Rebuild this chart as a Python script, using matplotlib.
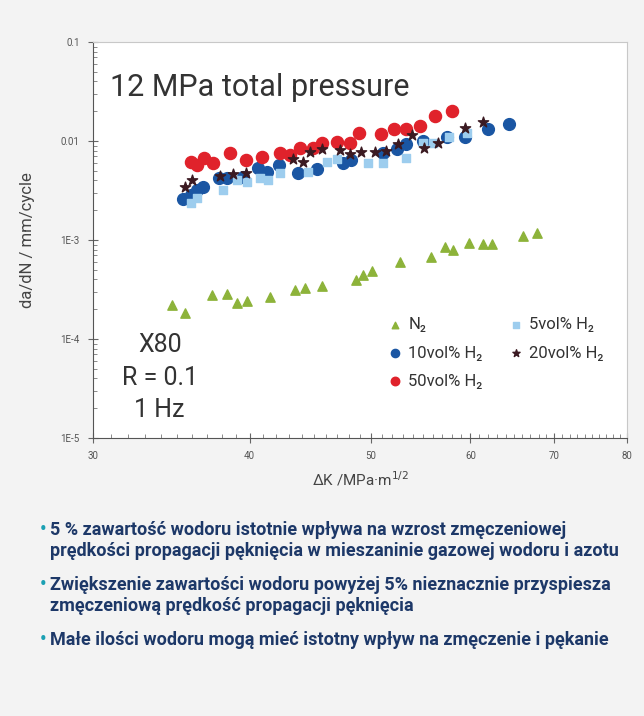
import numpy as np
import matplotlib.pyplot as plt
from matplotlib.ticker import FixedLocator, NullFormatter, LogLocator

# N2 (triangles)
n2_dk = [34.7, 35.5, 37.3, 38.4, 39.1, 39.8, 41.5, 43.5, 44.3, 45.7, 48.6,
         49.3, 50.1, 52.7, 55.8, 57.3, 58.1, 59.9, 61.4, 62.4, 66.1, 67.8]
n2_rate = [2.20e-4, 1.83e-4, 2.78e-4, 2.85e-4, 2.31e-4, 2.42e-4, 2.66e-4,
           3.13e-4, 3.27e-4, 3.43e-4, 3.94e-4, 4.43e-4, 4.86e-4, 6.00e-4,
           6.73e-4, 8.50e-4, 7.92e-4, 9.33e-4, 9.12e-4, 9.12e-4, 1.10e-3, 1.18e-3]

# 5 vol% H2 (squares)
h5_dk = [35.9, 36.3, 38.1, 39.1, 39.8, 40.8, 41.4, 42.3, 44.5, 46.1, 47.0,
         49.7, 51.1, 53.3, 55.0, 56.0, 57.7, 59.6]
h5_rate = [0.00237, 0.00266, 0.00320, 0.00404, 0.00386, 0.00423, 0.00404,
           0.00475, 0.00486, 0.00614, 0.00658, 0.00600, 0.00600, 0.00673,
           0.00954, 0.00954, 0.01097, 0.01205]

# 10 vol% H2 (dark blue circles)
h10_dk = [35.4, 35.9, 36.3, 36.7, 37.8, 38.4, 39.5, 40.6, 41.3, 42.2, 43.7,
          45.3, 47.5, 48.2, 51.1, 52.4, 53.3, 55.0, 57.5, 59.4, 62.0, 64.4]
h10_rate = [0.00260, 0.00285, 0.00320, 0.00343, 0.00423, 0.00423, 0.00433,
            0.00534, 0.00486, 0.00573, 0.00475, 0.00521, 0.00600, 0.00643,
            0.00756, 0.00830, 0.00933, 0.0100, 0.01097, 0.01097, 0.01322, 0.01486]

# 20 vol% H2 (stars)
h20_dk = [35.5, 36.0, 37.9, 38.8, 39.7, 43.3, 44.1, 44.7, 45.7, 47.2, 48.1,
          49.1, 50.4, 51.4, 52.5, 53.9, 55.1, 56.5, 59.4, 61.4]
h20_rate = [0.00343, 0.00404, 0.00443, 0.00464, 0.00475, 0.00658, 0.00614,
            0.00774, 0.00830, 0.00811, 0.00739, 0.00774, 0.00774, 0.00792,
            0.00933, 0.01150, 0.00850, 0.00954, 0.01353, 0.01556]

# 50 vol% H2 (red circles)
h50_dk = [35.9, 36.3, 36.8, 37.4, 38.6, 39.7, 40.9, 42.3, 43.1, 43.9, 44.9,
          45.7, 47.0, 48.1, 48.9, 50.9, 52.1, 53.3, 54.7, 56.2, 58.0]
h50_rate = [0.00614, 0.00573, 0.00673, 0.00600, 0.00756, 0.00643, 0.00689,
            0.00756, 0.00722, 0.00850, 0.00850, 0.00954, 0.00977, 0.00954,
            0.01205, 0.01177, 0.01322, 0.01322, 0.01418, 0.0179, 0.0201]

x_ticks = [30, 40, 50, 60, 70, 80]
y_ticks = [1e-5, 1e-4, 1e-3, 1e-2, 1e-1]
y_labels = ['1E-5', '1E-4', '1E-3', '0.01', '0.1']

bullets = [
    "5 % zawartość wodoru istotnie wpływa na wzrost zmęczeniowej\n"
    "prędkości propagacji pęknięcia w mieszaninie gazowej wodoru i azotu",
    "Zwiększenie zawartości wodoru powyżej 5% nieznacznie przyspiesza\n"
    "zmęczeniową prędkość propagacji pęknięcia",
    "Małe ilości wodoru mogą mieć istotny wpływ na zmęczenie i pękanie",
]

plt.rcParams['font.family'] = ['Roboto', 'DejaVu Sans']

fig = plt.figure(figsize=(6.44, 7.16), dpi=100, facecolor='#f3f3f3')
ax = fig.add_axes([0.1444, 0.3883, 0.8292, 0.5530])
ax.set_facecolor('white')

ax.scatter(n2_dk, n2_rate, marker='^', s=45, color='#8db33a', label='N₂', zorder=3)
ax.scatter(h10_dk, h10_rate, marker='o', s=72, color='#1a56a3', label='10vol% H₂', zorder=3)
ax.scatter(h50_dk, h50_rate, marker='o', s=76, color='#e0222b', label='50vol% H₂', zorder=3)
ax.scatter(h5_dk, h5_rate, marker='s', s=40, color='#9dcdee', label='5vol% H₂', zorder=4)
ax.scatter(h20_dk, h20_rate, marker='*', s=60, color='#3b1a22', label='20vol% H₂', zorder=5)

ax.set_xscale('log')
ax.set_yscale('log')
ax.set_xlim(30, 80)
ax.set_ylim(1e-5, 0.1)

ax.xaxis.set_major_locator(FixedLocator(x_ticks))
ax.xaxis.set_minor_locator(FixedLocator(list(range(30, 81))))
ax.xaxis.set_minor_formatter(NullFormatter())
ax.set_xticklabels([str(t) for t in x_ticks])
ax.yaxis.set_major_locator(FixedLocator(y_ticks))
ax.yaxis.set_minor_locator(LogLocator(base=10, subs=np.arange(2, 10)))
ax.yaxis.set_minor_formatter(NullFormatter())
ax.set_yticklabels(y_labels)

ax.tick_params(which='major', direction='inout', length=7, width=0.8, color='#666',
               labelsize=7, labelcolor='#555', pad=6)
ax.tick_params(which='minor', direction='in', length=3, width=0.6, color='#777')

ax.spines['left'].set_color('#555')
ax.spines['bottom'].set_color('#555')
ax.spines['top'].set_color('#c8c8c8')
ax.spines['right'].set_color('#c8c8c8')

ax.set_xlabel('ΔK /MPa·m$^{1/2}$', fontsize=11, color='#444', labelpad=6)
ax.set_ylabel('da/dN / mm/cycle', fontsize=12, color='#444', labelpad=18)

ax.text(0.032, 0.884, '12 MPa total pressure', transform=ax.transAxes,
        fontsize=22, color='#333', va='center', ha='left')
ax.text(0.125, 0.152, 'X80\nR = 0.1\n1 Hz', transform=ax.transAxes,
        fontsize=18, color='#333', va='center', ha='center', linespacing=1.45)

leg = ax.legend(loc='upper left', bbox_to_anchor=(0.522, 0.343), ncol=2, frameon=False,
                fontsize=12, handlelength=1.0, handletextpad=0.3, columnspacing=1.5,
                labelspacing=0.8, markerscale=0.7)
for t in leg.get_texts():
    t.set_color('#333')

# bullet list below the chart
y_pos = [0.273, 0.196, 0.119]
for yy, txt in zip(y_pos, bullets):
    fig.text(0.062, yy, '•', fontsize=13, color='#1ba0b3', va='top', ha='left',
             weight='bold')
    fig.text(0.078, yy, txt, fontsize=13, color='#1d3868', va='top', ha='left',
             weight='bold', linespacing=1.25)

fig.savefig('out.png', dpi=100, facecolor=fig.get_facecolor())
